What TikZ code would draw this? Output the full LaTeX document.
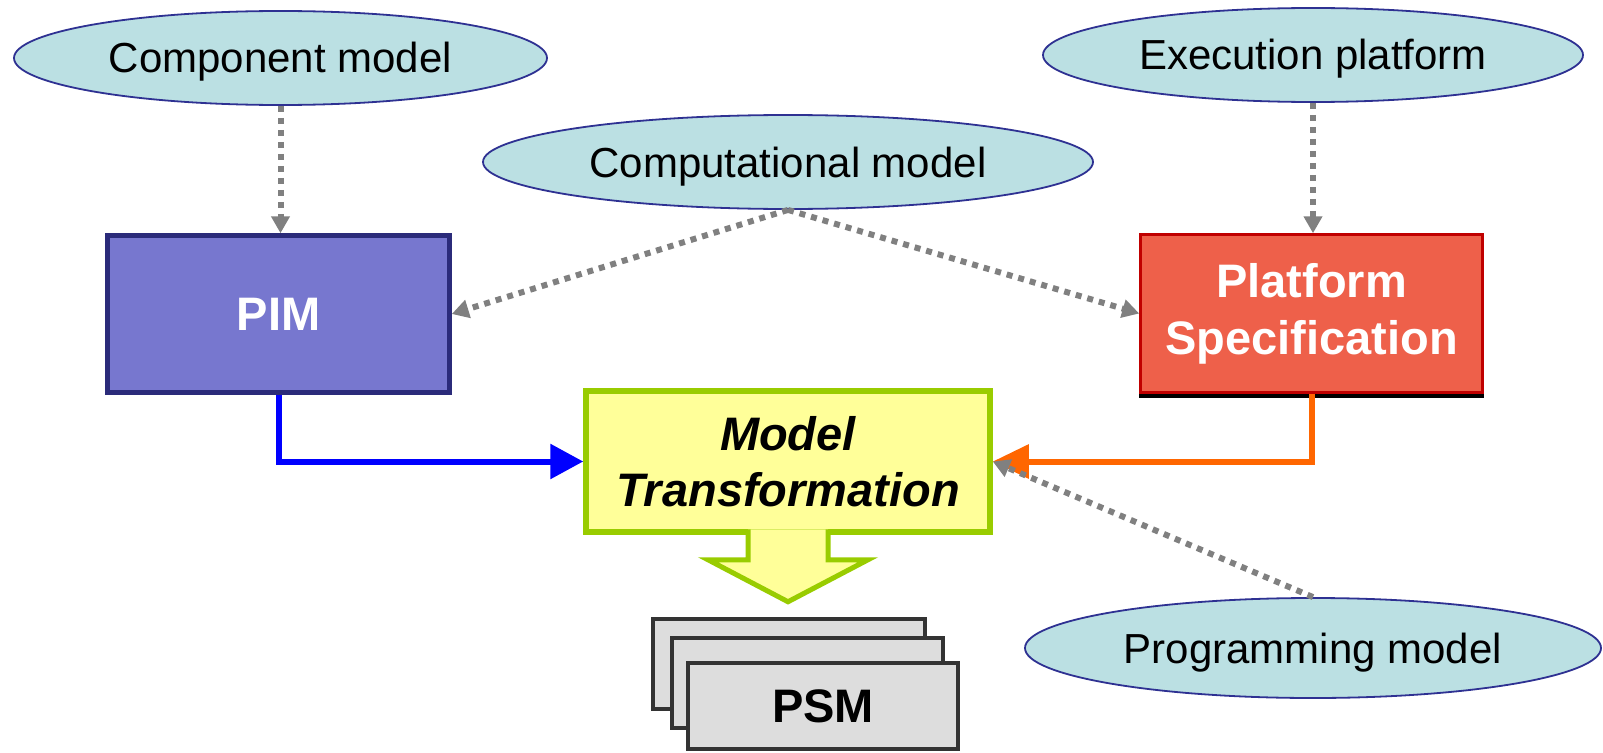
\documentclass[tikz,border=0pt]{standalone}
\usepackage{fontspec}
\setmainfont{Liberation Sans}
\usetikzlibrary{arrows.meta,shapes.geometric,calc}
\definecolor{ellfill}{HTML}{BBE0E3}
\definecolor{elldraw}{HTML}{2E3192}
\definecolor{pimfill}{HTML}{7777CF}
\definecolor{pimdraw}{HTML}{2B2B7A}
\definecolor{platfill}{HTML}{EE604A}
\definecolor{platdraw}{HTML}{C00000}
\definecolor{mtfill}{HTML}{FFFF99}
\definecolor{mtdraw}{HTML}{99CC00}
\definecolor{psmfill}{HTML}{DDDDDD}
\definecolor{psmdraw}{HTML}{333333}
\definecolor{dotgray}{HTML}{808080}
\definecolor{orangeln}{HTML}{FF6600}
\begin{document}
\begin{tikzpicture}[x=1pt,y=-1pt,
  ell/.style={ellipse, draw=elldraw, fill=ellfill, line width=1.8pt, inner sep=0pt,
    text height=30pt, text depth=0pt, font=\fontsize{42}{50}\selectfont},
  bigtext/.style={font=\fontsize{47}{57}\selectfont\bfseries, align=center, inner sep=0pt},
  dotarrow/.style={draw=dotgray, line width=6pt, dash pattern=on 6pt off 6pt,
    -{Triangle[length=17pt,width=18pt]}},
  psmbox/.style={rectangle, draw=psmdraw, fill=psmfill, line width=4.5pt,
    minimum width=271pt, minimum height=86pt, inner sep=0pt},
]
\useasboundingbox (0,0) rectangle (1603,752);

% ellipses
\node[ell, minimum width=533pt, minimum height=94pt] (comp) at (280.5,58) {Component model};
\node[ell, minimum width=540pt, minimum height=94pt] (exec) at (1313,55) {Execution platform};
\node[ell, minimum width=610pt, minimum height=94pt] (cmpt) at (788,162) {Computational model};
\node[ell, minimum width=576pt, minimum height=100pt] (prog) at (1313,648) {Programming model};

% boxes
\node[rectangle, draw=pimdraw, fill=pimfill, line width=4.5pt, text=white, bigtext,
  minimum width=342pt, minimum height=157pt] (pim) at (278.5,314) {PIM};
\node[rectangle, fill=black, minimum width=345pt, minimum height=161pt, inner sep=0pt]
  (platshadow) at (1311.5,317.5) {};
\node[rectangle, draw=platdraw, fill=platfill, line width=2.5pt, text=white, bigtext,
  minimum width=342pt, minimum height=158pt] (plat) at (1311.5,313.5) {Platform\\Specification};
\node[rectangle, draw=mtdraw, fill=mtfill, line width=5.5pt, bigtext,
  font=\fontsize{47}{56}\selectfont\bfseries\itshape,
  minimum width=404pt, minimum height=141pt] (model) at (788,461.5) {Model\\Transformation};

% block arrow
\begin{scope}[shift={(model.south)}]
  \fill[mtfill] (-40,-5.5) -- (-40,25) -- (-80,25) -- (0,67) -- (80,25) -- (40,25) -- (40,-5.5) -- cycle;
  \draw[mtdraw, line width=5pt, line join=miter] (-40,-5.5) -- (-40,25) -- (-80,25) -- (0,67) -- (80,25) -- (40,25) -- (40,-5.5);
\end{scope}

% PSM stack
\node[psmbox, minimum height=90pt, minimum width=272pt] (psm1) at (789,664) {};
\node[psmbox, minimum height=90pt] (psm2) at (807.5,683) {};
\node[psmbox, bigtext, minimum width=270pt, minimum height=86pt] (psm) at (823,706) {PSM};

% solid connectors
\draw[blue, line width=6pt, -{Triangle[length=33pt,width=34pt]}] (pim.south) |- (model.west);
\draw[orangeln, line width=6pt, -{Triangle[length=36pt,width=33pt]}] (plat.south) |- (model.east);

% dotted connectors
\draw[dotarrow] (comp.south) -- (comp.south |- pim.north);
\draw[dotarrow] (exec.south) -- (exec.south |- plat.north);
\draw[dotarrow] (cmpt.south) -- (pim.east);
\draw[dotarrow] (cmpt.south) -- (plat.west);
\draw[dotarrow] (prog.north) -- (model.east);
\end{tikzpicture}
\end{document}
